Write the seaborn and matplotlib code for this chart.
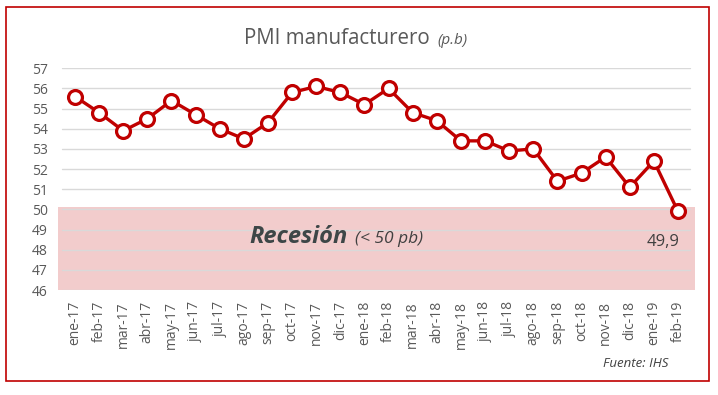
import matplotlib.pyplot as plt
import pandas as pd
import seaborn as sns
from matplotlib.patches import Rectangle

meses = ["ene-17", "feb-17", "mar-17", "abr-17", "may-17", "jun-17", "jul-17",
         "ago-17", "sep-17", "oct-17", "nov-17", "dic-17", "ene-18", "feb-18",
         "mar-18", "abr-18", "may-18", "jun-18", "jul-18", "ago-18", "sep-18",
         "oct-18", "nov-18", "dic-18", "ene-19", "feb-19"]
pmi = [55.6, 54.8, 53.9, 54.5, 55.4, 54.7, 54.0, 53.5, 54.3, 55.8, 56.1, 55.8,
       55.2, 56.0, 54.8, 54.4, 53.4, 53.4, 52.9, 53.0, 51.4, 51.8, 52.6, 51.1,
       52.4, 49.9]
y_ticks = list(range(46, 58))

df = pd.DataFrame({"mes": meses, "pmi": pmi, "pos": range(len(meses))})

sns.set_theme(style="white")
plt.rcParams["font.family"] = ["Open Sans", "DejaVu Sans"]

rojo = "#C00000"
gris = "#595959"

fig = plt.figure(figsize=(7.18, 3.95), dpi=100)
ax = fig.add_axes([58 / 718, 1 - 290 / 395, 637 / 718, (290 - 68.3) / 395])

# zona de recesion
ax.axhspan(46, 50.1, color="#F2CCCC", zorder=0, lw=0)
for t in y_ticks:
    ax.axhline(t, xmin=0.006, xmax=0.992, color="#D9D9D9", lw=1, zorder=1)

sns.lineplot(data=df, x="pos", y="pmi", ax=ax, color=rojo, lw=2.4, marker="o",
             markersize=10, markerfacecolor="white", markeredgecolor=rojo,
             markeredgewidth=2.3, zorder=3)

ax.set_xlim(-0.705, len(meses) - 1 + 0.705)
ax.set_ylim(46, 57)
ax.set_xticks(df["pos"])
ax.set_xticklabels(meses, rotation=90, fontsize=10, color=gris)
ax.set_yticks(y_ticks)
ax.set_yticklabels([str(t) for t in y_ticks], fontsize=10, color=gris)
ax.tick_params(length=0)
ax.tick_params(axis="x", pad=8)
ax.tick_params(axis="y", pad=7.5)
for s in ax.spines.values():
    s.set_visible(False)
ax.set_xlabel("")
ax.set_ylabel("")

ax.annotate("49,9", (len(meses) - 1, pmi[-1]), xytext=(-11, -22),
            textcoords="offset points", ha="center", va="center",
            fontsize=12, color="#404040")

ax.text(0.301, 0.21, "Recesión", transform=ax.transAxes, fontsize=17,
        fontweight="bold", fontstyle="italic", color="#3D4647", va="baseline")
ax.text(0.467, 0.21, "(< 50 pb)", transform=ax.transAxes, fontsize=12.5,
        fontstyle="italic", color="#404040", va="baseline")

fig.text(244 / 718, 1 - 44 / 395, "PMI manufacturero", ha="left",
         va="baseline", fontsize=14.8, color=gris)
fig.text(437 / 718, 1 - 44 / 395, "(p.b)", ha="left", va="baseline",
         fontsize=11, fontstyle="italic", color=gris)

fig.text(668 / 718, 1 - 367 / 395, "Fuente: IHS", ha="right", va="baseline",
         fontsize=9.5, fontstyle="italic", color="#404040",
         family=["Liberation Sans Narrow", "Open Sans", "DejaVu Sans"])

fig.patches.append(Rectangle((6 / 718, 1 - 381 / 395), 703 / 718, 374 / 395,
                             transform=fig.transFigure, fill=False,
                             edgecolor=rojo, lw=1.2))

fig.savefig("out.png", dpi=100)
